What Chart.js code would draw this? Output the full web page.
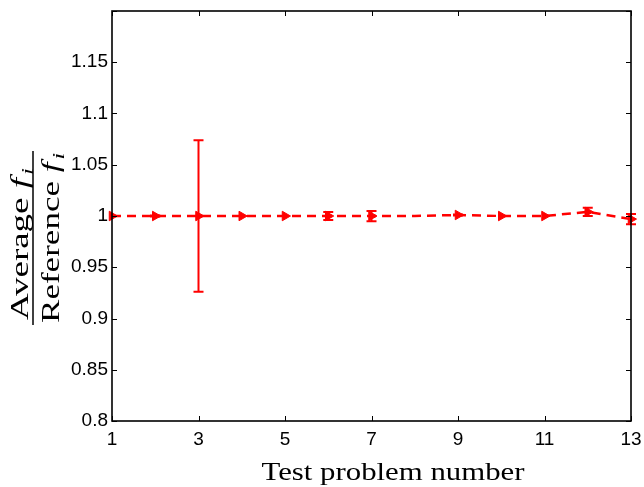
<!DOCTYPE html>
<html>
<head>
<meta charset="utf-8">
<script src="https://cdn.jsdelivr.net/npm/chart.js@4"></script>
<style>
  html, body { margin: 0; padding: 0; background: #fff; }
  #wrap { width: 644px; height: 487px; }
</style>
</head>
<body>
<div id="wrap"><canvas id="c"></canvas></div>
<script>
// test problems and averaged ratios with their spread
const problems = [1, 2, 3, 4, 5, 6, 7, 8, 9, 10, 11, 12, 13];
const ratio = [1.000, 1.000, 1.000, 1.000, 1.000, 1.000, 1.000, 1.000, 1.001, 1.000, 1.000, 1.004, 0.997];
const spread = [0, 0.0005, 0.074, 0, 0, 0.004, 0.005, 0, 0.0005, 0, 0, 0.004, 0.005];
const xTicks = [1, 3, 5, 7, 9, 11, 13];
const yTicks = [0.8, 0.85, 0.9, 0.95, 1, 1.05, 1.1, 1.15, 1.2];

const RED = 'rgb(255,0,0)';
const SERIF = '"Liberation Serif"';

// error bars drawn on top of the line
const errorBars = {
    id: 'errorBars',
    afterDatasetsDraw(chart) {
        const ctx = chart.ctx, xs = chart.scales.x, ys = chart.scales.y;
        ctx.save();
        ctx.strokeStyle = RED;
        ctx.lineWidth = 2;
        for (let i = 0; i < problems.length; i++) {
            if (!spread[i]) continue;
            const px = xs.getPixelForValue(problems[i]);
            const top = ys.getPixelForValue(ratio[i] + spread[i]);
            const bot = ys.getPixelForValue(ratio[i] - spread[i]);
            ctx.beginPath();
            ctx.moveTo(px, top); ctx.lineTo(px, bot);
            ctx.moveTo(px - 5, top); ctx.lineTo(px + 5, top);
            ctx.moveTo(px - 5, bot); ctx.lineTo(px + 5, bot);
            ctx.stroke();
        }
        ctx.restore();
    }
};

// word followed by italic f with subscript i, stretched to a given width
function drawFi(ctx, word, cx, base, width) {
    ctx.font = '25px ' + SERIF;
    const w1 = ctx.measureText(word + ' ').width;
    ctx.font = 'italic 25px ' + SERIF;
    const wf = ctx.measureText('f').width;
    ctx.font = 'italic 17px ' + SERIF;
    const wi = ctx.measureText('i').width;
    const total = w1 + wf + 2 + wi;
    const k = width / total;
    ctx.save();
    ctx.translate(cx - width / 2, base);
    ctx.scale(k, 1);
    ctx.textAlign = 'left';
    ctx.font = '25px ' + SERIF;
    ctx.fillText(word + ' ', 0, 0);
    ctx.font = 'italic 25px ' + SERIF;
    ctx.fillText('f', w1, 0);
    ctx.font = 'italic 17px ' + SERIF;
    ctx.fillText('i', w1 + wf + 2, 5);
    ctx.restore();
}

// box around the axes with inward ticks, plus axis titles
const frame = {
    id: 'frame',
    afterDraw(chart) {
        const ctx = chart.ctx, a = chart.chartArea, xs = chart.scales.x, ys = chart.scales.y;
        ctx.save();
        ctx.strokeStyle = '#000';
        ctx.lineWidth = 1;
        ctx.beginPath();
        xTicks.forEach(v => {
            const p = Math.round(xs.getPixelForValue(v)) + 0.5;
            ctx.moveTo(p, a.bottom); ctx.lineTo(p, a.bottom - 5);
            ctx.moveTo(p, a.top); ctx.lineTo(p, a.top + 5);
        });
        yTicks.forEach(v => {
            const p = Math.round(ys.getPixelForValue(v)) + 0.5;
            ctx.moveTo(a.left, p); ctx.lineTo(a.left + 5, p);
            ctx.moveTo(a.right, p); ctx.lineTo(a.right - 5, p);
        });
        ctx.stroke();
        ctx.lineWidth = 1.6;
        ctx.strokeRect(a.left, a.top, a.right - a.left, a.bottom - a.top);

        // x title
        ctx.fillStyle = '#000';
        ctx.font = '26px ' + SERIF;
        ctx.textAlign = 'center';
        ctx.textBaseline = 'alphabetic';
        const xt = 'Test problem number';
        const sx = 263 / ctx.measureText(xt).width;
        ctx.save();
        ctx.translate(393, 480);
        ctx.scale(sx, 1);
        ctx.fillText(xt, 0, 0);
        ctx.restore();

        // y title as a fraction, rotated
        ctx.translate(33, 238);
        ctx.rotate(-Math.PI / 2);
        drawFi(ctx, 'Average', -6, -5, 152);
        drawFi(ctx, 'Reference', 0, 26, 170);
        ctx.lineWidth = 1.5;
        ctx.beginPath();
        ctx.moveTo(-87, 0); ctx.lineTo(87, 0);
        ctx.stroke();
        ctx.restore();
    }
};

const fmt = v => Number(v.toFixed(2)).toString();

new Chart(document.getElementById('c'), {
    type: 'line',
    data: {
        labels: problems,
        datasets: [{
            data: problems.map((p, i) => ({ x: p, y: ratio[i] })),
            borderColor: RED,
            backgroundColor: RED,
            borderWidth: 2.5,
            borderDash: [9, 6],
            pointStyle: 'triangle',
            rotation: 90,
            pointRadius: problems.map((p, i) => i === 7 ? 0 : 5.5),
            pointBorderWidth: 1,
            tension: 0,
            clip: false
        }]
    },
    options: {
        responsive: true,
        maintainAspectRatio: false,
        animation: false,
        events: [],
        layout: { padding: { left: 0, top: 11, right: 13, bottom: 0 } },
        plugins: { legend: { display: false }, tooltip: { enabled: false } },
        scales: {
            x: {
                type: 'linear',
                min: 1, max: 13,
                afterBuildTicks: s => { s.ticks = xTicks.map(v => ({ value: v })); },
                afterFit: s => { s.height = 66; s.paddingLeft = 0; s.paddingRight = 0; },
                grid: { display: false, drawTicks: false },
                border: { display: false },
                ticks: {
                    color: '#000',
                    font: { family: '"Liberation Sans"', size: 19 },
                    padding: 7,
                    maxRotation: 0,
                    callback: v => String(v)
                }
            },
            y: {
                min: 0.8, max: 1.2,
                afterBuildTicks: s => { s.ticks = yTicks.map(v => ({ value: v })); },
                afterFit: s => { s.width = 112; s.paddingTop = 0; s.paddingBottom = 0; },
                grid: { display: false, drawTicks: false },
                border: { display: false },
                ticks: {
                    color: '#000',
                    font: { family: '"Liberation Sans"', size: 19 },
                    padding: 4,
                    callback: v => v >= 1.2 ? '' : fmt(v)
                }
            }
        }
    },
    plugins: [errorBars, frame]
});
</script>
</body>
</html>
